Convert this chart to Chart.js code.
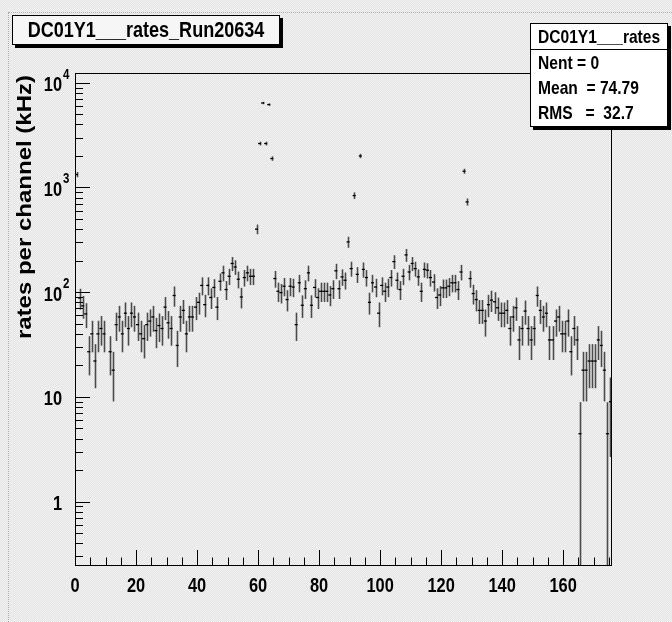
<!DOCTYPE html>
<html>
<head>
<meta charset="utf-8">
<title>DC01Y1___rates_Run20634</title>
<script src="https://cdn.jsdelivr.net/npm/chart.js@4.4.1/dist/chart.umd.min.js"></script>
<style>
  html, body { margin: 0; padding: 0; }
  body {
    width: 672px; height: 622px; position: relative; overflow: hidden;
    background: repeating-conic-gradient(#e3e3e3 0% 25%, #f3f3f3 0% 50%) 0 0 / 2px 2px;
  }
  #padEdge {
    position: absolute; left: 8px; top: 12px; right: 0; bottom: 0;
    border-left: 1px dotted #a8a8a8; border-top: 1px dotted #a8a8a8;
  }
  #chart { position: absolute; left: 0; top: 0; }
  .pave {
    position: absolute; box-sizing: border-box;
    border: 1px solid #000; box-shadow: 3px 3px 0 #000;
    font-family: "Liberation Sans", Arial, sans-serif;
    font-weight: bold; color: #000; white-space: pre;
  }
  /* Helvetica-bold look of the ROOT canvas is condensed horizontally */
  .pave span { display: inline-block; transform: scaleX(0.82); }
  #histTitle {
    left: 12px; top: 15px; width: 268px; height: 30px;
    font-size: 22px; line-height: 28px;
    background: #f6f6f6;
  }
  #histTitle span {
    position: absolute; left: 50%; top: 0;
    transform: translateX(-50%) scaleX(0.82);
  }
  #stats {
    left: 530px; top: 23px; width: 138px; height: 104px;
    background: #fff; font-size: 19px;
  }
  #stats div { height: 25px; line-height: 26px; padding-left: 7px; }
  #stats span { transform-origin: left center; }
  #stats div:first-child { border-bottom: 1px solid #000; }
</style>
</head>
<body>
<div id="padEdge"></div>
<canvas id="chart" width="672" height="622"></canvas>
<div class="pave" id="histTitle"><span>DC01Y1___rates_Run20634</span></div>
<div class="pave" id="stats"></div>
<script>
// rate per channel (kHz), one entry per DC01Y1 channel 0..175
const rates = [
  1330, 88, 74, 62, 27, 40, 22, 40, 45, 40,
  0, 27, 18, 49, 58, 40, 63, 45, 63, 58,
  49, 40, 36, 49, 53, 58, 43, 48, 45, 72,
  51, 45, 93, 31, 58, 67, 40, 58, 58, 72,
  80, 116, 76, 116, 89, 111, 72, 127, 153, 106,
  142, 188, 174, 133, 90, 138, 153, 142, 142, 400,
  2630, 6410, 2630, 6190, 1890, 135, 102, 99, 114, 85,
  114, 112, 49, 123, 75, 108, 153, 75, 111, 89,
  102, 102, 102, 94, 108, 160, 108, 140, 130, 302,
  168, 837, 148, 2000, 165, 138, 80, 123, 112, 63,
  116, 102, 112, 138, 196, 130, 106, 142, 227, 156,
  188, 168, 140, 102, 165, 162, 138, 125, 89, 94,
  110, 110, 114, 123, 123, 106, 156, 1430, 728, 135,
  97, 85, 67, 67, 53, 76, 84, 81, 71, 63,
  63, 67, 45, 58, 71, 35, 45, 66, 45, 35,
  45, 93, 67, 58, 63, 35, 35, 53, 58, 40,
  40, 53, 27, 45, 35, 4.45, 18, 18, 22, 22,
  22, 35, 31, 18, 4.45, 9
];
// one recorded hit corresponds to this many kHz; errors are Poisson
const RATE_PER_HIT = 4.45;

const xTickValues = [0, 20, 40, 60, 80, 100, 120, 140, 160];
const yDecades = [0, 1, 2, 3, 4];
const yAxisTitle = 'rates per channel (kHz)';
const statsLines = ['DC01Y1___rates', 'Nent = 0', 'Mean  = 74.79', 'RMS   =  32.7'];

const X_MIN = 0, X_MAX = 176;
const Y_MIN = 0.248, Y_MAX = 12400;
const SQUEEZE = 0.82;

document.getElementById('stats').innerHTML =
  statsLines.map(s => '<div><span>' + s + '</span></div>').join('');

const FONT = '"Liberation Sans", Arial, sans-serif';

// draws text squeezed horizontally like the rest of the canvas lettering
function squeezedText(ctx, str, px, py) {
  ctx.save();
  ctx.translate(px, py);
  ctx.scale(SQUEEZE, 1);
  ctx.fillText(str, 0, 0);
  ctx.restore();
}

// error bars + bin markers, ROOT "E" style
const errorBars = {
  id: 'errorBars',
  afterDatasetsDraw(chart) {
    const { ctx, chartArea: a, scales: { x, y } } = chart;
    ctx.save();
    ctx.beginPath();
    ctx.rect(a.left, a.top, a.right - a.left, a.bottom - a.top);
    ctx.clip();
    rates.forEach((r, i) => {
      if (r <= 0) return;
      const err = Math.sqrt(r * RATE_PER_HIT);
      const xc = Math.round(x.getPixelForValue(i + 0.5)) + 0.5;
      const yv = y.getPixelForValue(r);
      const yHi = y.getPixelForValue(r + err);
      const yLo = r - err > 0.01 ? y.getPixelForValue(r - err) : a.bottom;
      ctx.strokeStyle = '#4a4a4a';
      ctx.lineWidth = 1.6;
      ctx.beginPath();
      ctx.moveTo(xc, yHi);
      ctx.lineTo(xc, yLo);
      ctx.stroke();
      ctx.strokeStyle = '#000';
      ctx.lineWidth = 1.3;
      ctx.beginPath();
      ctx.moveTo(x.getPixelForValue(i), yv);
      ctx.lineTo(x.getPixelForValue(i + 1), yv);
      ctx.stroke();
    });
    ctx.restore();
  }
};

// frame, ticks and labels drawn the way ROOT lays them out
const rootAxes = {
  id: 'rootAxes',
  afterDraw(chart) {
    const { ctx, chartArea: a, scales: { x, y } } = chart;
    ctx.save();
    ctx.strokeStyle = '#000';
    ctx.lineWidth = 1;
    ctx.strokeRect(a.left + 0.5, a.top + 0.5, a.right - a.left - 1, a.bottom - a.top);

    // y ticks on the log axis
    ctx.beginPath();
    for (let k = -1; k <= 4; k++) {
      for (let m = 1; m <= 9; m++) {
        const v = m * Math.pow(10, k);
        if (v < Y_MIN || v > Y_MAX) continue;
        const py = Math.round(y.getPixelForValue(v)) + 0.5;
        ctx.moveTo(a.left, py);
        ctx.lineTo(a.left + (m === 1 ? 15 : 8), py);
      }
    }
    // x ticks, major every 20 and minor every 5
    for (let v = 5; v < X_MAX; v += 5) {
      const px = Math.round(x.getPixelForValue(v)) + 0.5;
      ctx.moveTo(px, a.bottom);
      ctx.lineTo(px, a.bottom - (v % 20 === 0 ? 15 : 7.5));
    }
    ctx.stroke();

    ctx.fillStyle = '#000';
    ctx.font = 'bold 20px ' + FONT;
    ctx.textAlign = 'center';
    ctx.textBaseline = 'middle';
    xTickValues.forEach(v => {
      squeezedText(ctx, String(v), x.getPixelForValue(v), a.bottom + 21);
    });

    yDecades.forEach(k => {
      const py = y.getPixelForValue(Math.pow(10, k)) + 3;
      ctx.font = 'bold 20px ' + FONT;
      ctx.textAlign = 'right';
      squeezedText(ctx, k === 0 ? '1' : '10', 62, py);
      if (k > 1) {
        ctx.font = 'bold 14px ' + FONT;
        ctx.textAlign = 'left';
        squeezedText(ctx, String(k), 63, py - 11);
      }
    });

    // axis title, rotated and aligned to the top of the frame
    ctx.translate(26, a.top + 2);
    ctx.rotate(-Math.PI / 2);
    ctx.scale(1, SQUEEZE);
    ctx.font = 'bold 24px ' + FONT;
    ctx.textAlign = 'right';
    ctx.fillText(yAxisTitle, 0, 0);
    ctx.restore();
  }
};

new Chart(document.getElementById('chart'), {
  type: 'scatter',
  data: {
    datasets: [{
      label: 'DC01Y1___rates',
      data: rates.map((r, i) => ({ x: i + 0.5, y: r > 0 ? r : null })),
      pointRadius: 0,
      showLine: false
    }]
  },
  options: {
    responsive: false,
    animation: false,
    layout: { padding: { left: 75, top: 73, right: 60, bottom: 57 } },
    scales: {
      x: { type: 'linear', min: X_MIN, max: X_MAX, display: false },
      y: { type: 'logarithmic', min: Y_MIN, max: Y_MAX, display: false }
    },
    plugins: { legend: { display: false }, tooltip: { enabled: false } }
  },
  plugins: [errorBars, rootAxes]
});
</script>
</body>
</html>
